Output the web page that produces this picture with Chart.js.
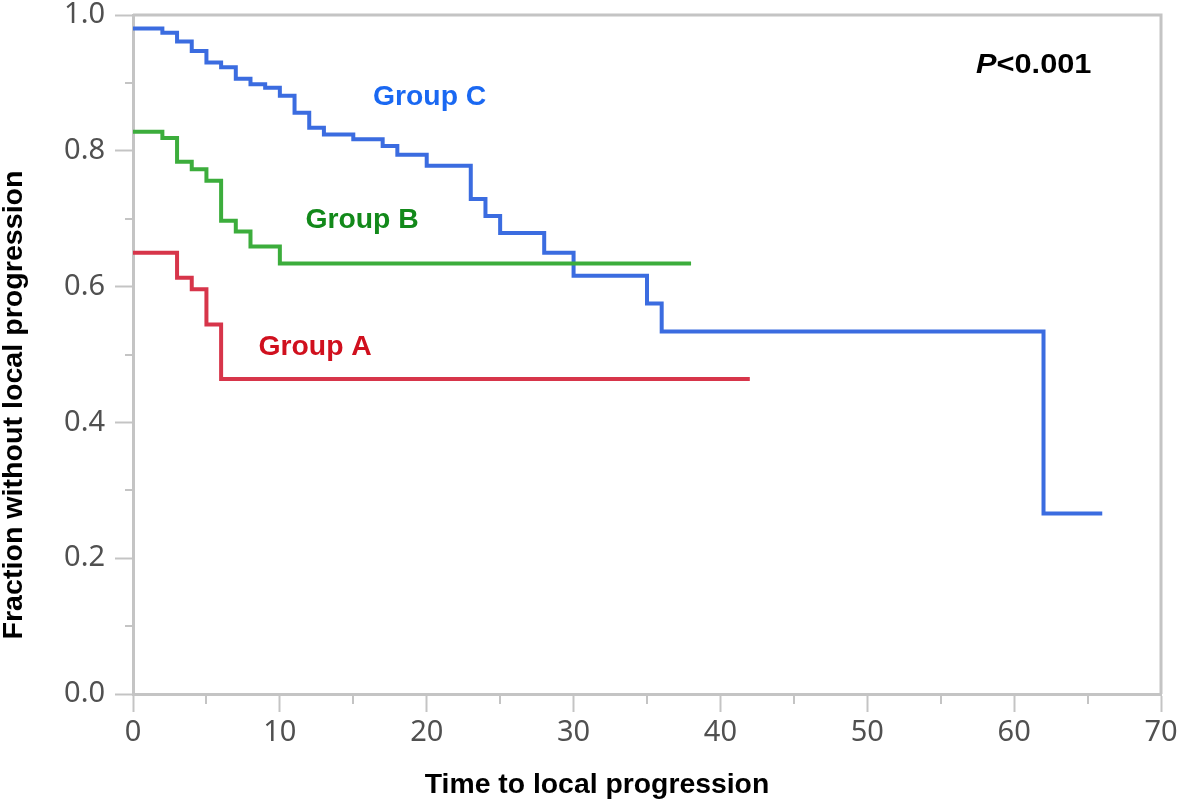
<!DOCTYPE html>
<html lang="en">
<head>
  <meta charset="UTF-8">
  <title>Time to local progression</title>
  <style>
    html, body { margin: 0; padding: 0; background: white; }
    #wrap { width: 1182px; height: 803px; position: relative; }
  </style>
  <script src="https://cdn.jsdelivr.net/npm/chart.js@4/dist/chart.umd.js"></script>
</head>
<body>
  <div id="wrap"><canvas id="kmChart" width="1182" height="803"></canvas></div>
  <script>
    // Kaplan-Meier estimates (time, fraction)
    const timesA = [0, 3, 4, 5, 6, 42];
    const valuesA = [0.650, 0.613, 0.596, 0.544, 0.464, 0.464];

    const timesB = [0, 2, 3, 4, 5, 6, 7, 8, 10, 38];
    const valuesB = [0.828, 0.819, 0.784, 0.773, 0.756, 0.697, 0.681, 0.659, 0.634, 0.634];

    const timesC = [0, 2, 3, 4, 5, 6, 7, 8, 9, 10, 11, 12, 13, 15, 17, 18, 20, 23, 24, 25, 28, 30, 35, 36, 62, 66];
    const valuesC = [0.980, 0.974, 0.961, 0.947, 0.930, 0.923, 0.906, 0.898, 0.893, 0.881, 0.856, 0.834, 0.824, 0.817,
                     0.807, 0.794, 0.778, 0.729, 0.704, 0.679, 0.650, 0.616, 0.575, 0.534, 0.266, 0.266];

    const groupNames = ['Group A', 'Group B', 'Group C'];
    const xMajorTicks = [0, 10, 20, 30, 40, 50, 60, 70];
    const yMajorTicks = ['0.0', '0.2', '0.4', '0.6', '0.8', '1.0'];
    const pText = '<0.001';

    const lineColors = ['#d7354a', '#3cad3c', '#3b6ce0'];
    const labelColors = ['#d0101e', '#12891a', '#1a68f2'];
    const axisGray = '#c4c4c4';

    const toPoints = (ts, vs) => ts.map((t, i) => ({ x: t, y: vs[i] }));
    const isMajorX = v => xMajorTicks.includes(Math.round(v));
    const isMajorY = v => yMajorTicks.includes(v.toFixed(1));

    // text labels inside the plot, placed in data units
    const inPlotLabels = [
      { text: groupNames[2], x: 20.2, y: 0.878, color: labelColors[2] },
      { text: groupNames[1], x: 15.6, y: 0.698, color: labelColors[1] },
      { text: groupNames[0], x: 12.4, y: 0.510, color: labelColors[0] }
    ];

    const boldFont = 'bold 27px "Liberation Sans", Arial, sans-serif';

    function stretchedText(ctx, text, x, y, stretch) {
      ctx.save();
      ctx.translate(x, y);
      ctx.scale(stretch, 1);
      ctx.fillText(text, 0, 0);
      ctx.restore();
    }

    const decor = {
      id: 'decor',
      afterDraw(chart) {
        const { ctx, chartArea: a, scales: { x, y } } = chart;
        ctx.save();
        // frame top + right
        ctx.strokeStyle = axisGray; ctx.lineWidth = 3;
        ctx.beginPath();
        ctx.moveTo(a.left, a.top); ctx.lineTo(a.right, a.top); ctx.lineTo(a.right, a.bottom);
        ctx.stroke();
        // minor ticks
        ctx.lineWidth = 2;
        ctx.beginPath();
        x.ticks.forEach(t => {
          if (isMajorX(t.value)) return;
          const px = Math.round(x.getPixelForValue(t.value));
          ctx.moveTo(px, a.bottom); ctx.lineTo(px, a.bottom + 10);
        });
        y.ticks.forEach(t => {
          if (isMajorY(t.value)) return;
          const py = Math.round(y.getPixelForValue(t.value));
          ctx.moveTo(a.left, py); ctx.lineTo(a.left - 8, py);
        });
        ctx.stroke();

        // group labels
        ctx.font = boldFont;
        ctx.textAlign = 'center'; ctx.textBaseline = 'middle';
        inPlotLabels.forEach(l => {
          ctx.fillStyle = l.color;
          stretchedText(ctx, l.text, x.getPixelForValue(l.x), y.getPixelForValue(l.y), 1.05);
        });

        // P value
        ctx.fillStyle = '#000';
        ctx.textAlign = 'left';
        const px = x.getPixelForValue(57.4), py = y.getPixelForValue(0.926);
        ctx.font = 'italic ' + boldFont;
        stretchedText(ctx, 'P', px, py, 1.14);
        const pw = ctx.measureText('P').width * 1.14;
        ctx.font = boldFont;
        stretchedText(ctx, pText, px + pw, py, 1.14);

        // axis titles
        ctx.textAlign = 'center';
        stretchedText(ctx, 'Time to local progression', 597, 786, 1.05);
        ctx.save();
        ctx.translate(15, 405);
        ctx.rotate(-Math.PI / 2);
        stretchedText(ctx, 'Fraction without local progression', 0, 0, 1.06);
        ctx.restore();
        ctx.restore();
      }
    };

    const tickFont = { family: '"Noto Sans", "Open Sans", sans-serif', size: 29, lineHeight: 1.0 };

    new Chart(document.getElementById('kmChart'), {
      type: 'line',
      data: {
        datasets: [
          { label: groupNames[0], data: toPoints(timesA, valuesA), borderColor: lineColors[0] },
          { label: groupNames[1], data: toPoints(timesB, valuesB), borderColor: lineColors[1] },
          { label: groupNames[2], data: toPoints(timesC, valuesC), borderColor: lineColors[2] }
        ].map(d => Object.assign(d, { stepped: 'before', borderWidth: 4, pointRadius: 0, fill: false, tension: 0 }))
      },
      options: {
        responsive: false,
        animation: false,
        events: [],
        layout: { padding: { top: 15, right: 21, left: 0, bottom: 0 } },
        plugins: { legend: { display: false }, tooltip: { enabled: false } },
        scales: {
          x: {
            type: 'linear', min: 0, max: 70,
            afterFit: s => { s.height = 109; s.paddingLeft = 0; s.paddingRight = 0; },
            ticks: {
              stepSize: 5, autoSkip: false, maxRotation: 0, padding: 6,
              color: '#505050', font: tickFont,
              callback: v => isMajorX(v) ? String(v) : ''
            },
            grid: {
              drawOnChartArea: false, tickLength: 18, tickWidth: 2,
              tickColor: c => (c.tick && isMajorX(c.tick.value)) ? axisGray : 'rgba(0,0,0,0)'
            },
            border: { color: axisGray, width: 3 }
          },
          y: {
            type: 'linear', min: 0, max: 1,
            afterFit: s => { s.width = 133; s.paddingTop = 0; s.paddingBottom = 0; },
            ticks: {
              stepSize: 0.1, autoSkip: false, padding: 10,
              color: '#505050', font: tickFont,
              callback: v => isMajorY(v) ? v.toFixed(1) : ''
            },
            grid: {
              drawOnChartArea: false, tickLength: 18, tickWidth: 2,
              tickColor: c => (c.tick && isMajorY(c.tick.value)) ? axisGray : 'rgba(0,0,0,0)'
            },
            border: { color: axisGray, width: 3 }
          }
        }
      },
      plugins: [decor]
    });
  </script>
</body>
</html>
